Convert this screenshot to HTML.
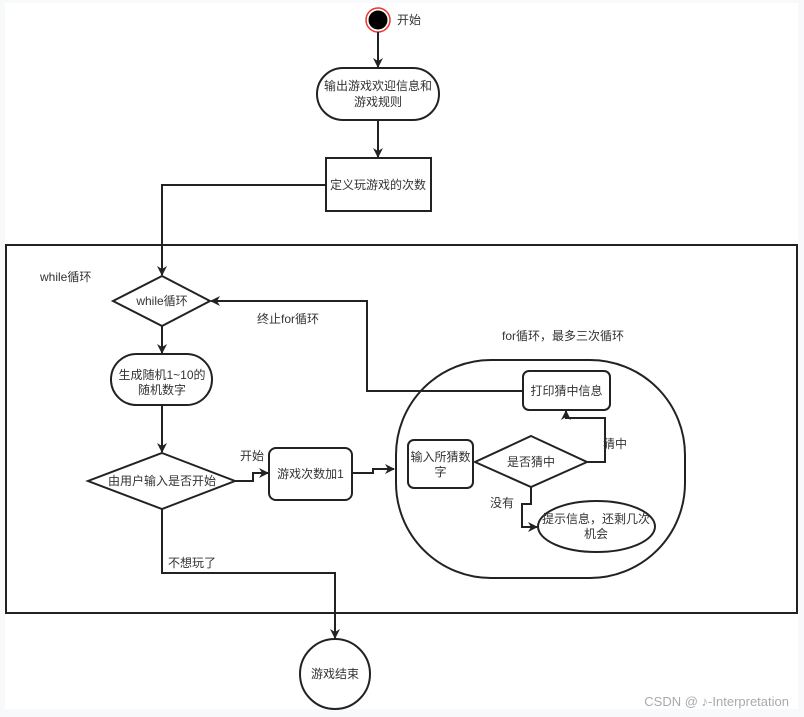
<!DOCTYPE html>
<html><head><meta charset="utf-8"><style>
html,body{margin:0;padding:0;background:#f8f9fb;}
svg{display:block;}
text{font-family:"Liberation Sans","Noto Sans CJK SC",sans-serif;font-size:12px;fill:#333;}
</style></head><body>
<svg width="804" height="717" viewBox="0 0 804 717" xmlns="http://www.w3.org/2000/svg">
<defs>
<marker id="a" markerWidth="10" markerHeight="10" refX="9" refY="5" orient="auto" markerUnits="userSpaceOnUse">
<path d="M0,0 L10,5 L0,10 L3,5 Z" fill="#222"/></marker>
</defs>
<rect x="5" y="3" width="793" height="706" fill="#fff"/>
<g stroke="#222" stroke-width="1.5" fill="none">
<rect x="6" y="245" width="791" height="368" stroke-width="2"/>
<circle cx="378" cy="20" r="12" fill="#fff" stroke="#e33" stroke-width="1.5"/>
<circle cx="378" cy="20" r="9.5" fill="#000" stroke="none"/>
<line x1="378" y1="32" x2="378" y2="67" marker-end="url(#a)" stroke-width="2"/>
<rect x="317" y="68" width="122" height="52" rx="26" fill="#fff" stroke-width="2"/>
<line x1="378" y1="120" x2="378" y2="157" marker-end="url(#a)" stroke-width="2"/>
<rect x="326" y="158" width="105" height="53" fill="#fff" stroke-width="2"/>
<polyline points="326,185 162,185 162,275" marker-end="url(#a)" stroke-width="2"/>
<polygon points="162,276 210,301 162,326 113,301" fill="#fff" stroke-width="2"/>
<line x1="162" y1="326" x2="162" y2="353" marker-end="url(#a)" stroke-width="2"/>
<rect x="111" y="354" width="101" height="51" rx="25.5" fill="#fff" stroke-width="2"/>
<line x1="162" y1="405" x2="162" y2="452" marker-end="url(#a)" stroke-width="2"/>
<polygon points="162,453 235,481 162,509 88,481" fill="#fff" stroke-width="2"/>
<polyline points="235,481 253,481 253,473 268,473" marker-end="url(#a)" stroke-width="2"/>
<rect x="269" y="448" width="83" height="52" rx="7" fill="#fff" stroke-width="2"/>
<polyline points="352,473 373,473 373,469 394,469" marker-end="url(#a)" stroke-width="2"/>
<rect x="396" y="360" width="289" height="218" rx="95" fill="none" stroke-width="2"/>
<polyline points="523,391 367,391 367,301 211,301" marker-end="url(#a)" stroke-width="2"/>
<rect x="523" y="371" width="87" height="39" rx="6" fill="#fff" stroke-width="2"/>
<rect x="408" y="440" width="65" height="48" rx="6" fill="#fff" stroke-width="2"/>
<polygon points="531,436 587,462 531,487 475,462" fill="#fff" stroke-width="2"/>
<polyline points="587,462 605,462 605,418 566,418 566,411" marker-end="url(#a)" stroke-width="2"/>
<polyline points="531,487 531,504 522,504 522,527 537,527" marker-end="url(#a)" stroke-width="2"/>
<ellipse cx="596.5" cy="526.5" rx="58.5" ry="25.5" fill="#fff" stroke-width="2"/>
<polyline points="162,509 162,573 335,573 335,638" marker-end="url(#a)" stroke-width="2"/>
<circle cx="335" cy="674" r="35" fill="#fff" stroke-width="2"/>
</g>
<text x="397" y="24">开始</text>
<text x="378" y="90" text-anchor="middle">输出游戏欢迎信息和</text>
<text x="378" y="106" text-anchor="middle">游戏规则</text>
<text x="378" y="189" text-anchor="middle">定义玩游戏的次数</text>
<text x="40" y="281">while循环</text>
<text x="162" y="305" text-anchor="middle">while循环</text>
<text x="257" y="323">终止for循环</text>
<text x="162" y="379" text-anchor="middle">生成随机1~10的</text>
<text x="162" y="394" text-anchor="middle">随机数字</text>
<text x="162" y="485" text-anchor="middle">由用户输入是否开始</text>
<text x="240" y="460">开始</text>
<text x="310.5" y="478" text-anchor="middle">游戏次数加1</text>
<text x="563" y="340" text-anchor="middle">for循环，最多三次循环</text>
<text x="566.5" y="395" text-anchor="middle">打印猜中信息</text>
<text x="440.5" y="461" text-anchor="middle">输入所猜数</text>
<text x="440.5" y="476" text-anchor="middle">字</text>
<text x="531" y="466" text-anchor="middle">是否猜中</text>
<text x="603" y="448">猜中</text>
<text x="490" y="507">没有</text>
<text x="596" y="523" text-anchor="middle">提示信息，还剩几次</text>
<text x="596" y="538" text-anchor="middle">机会</text>
<text x="168" y="567">不想玩了</text>
<text x="335" y="678" text-anchor="middle">游戏结束</text>
<text x="789" y="706" text-anchor="end" style="font-size:13px;fill:#aaa">CSDN @ ♪-Interpretation</text>
</svg>
</body></html>
